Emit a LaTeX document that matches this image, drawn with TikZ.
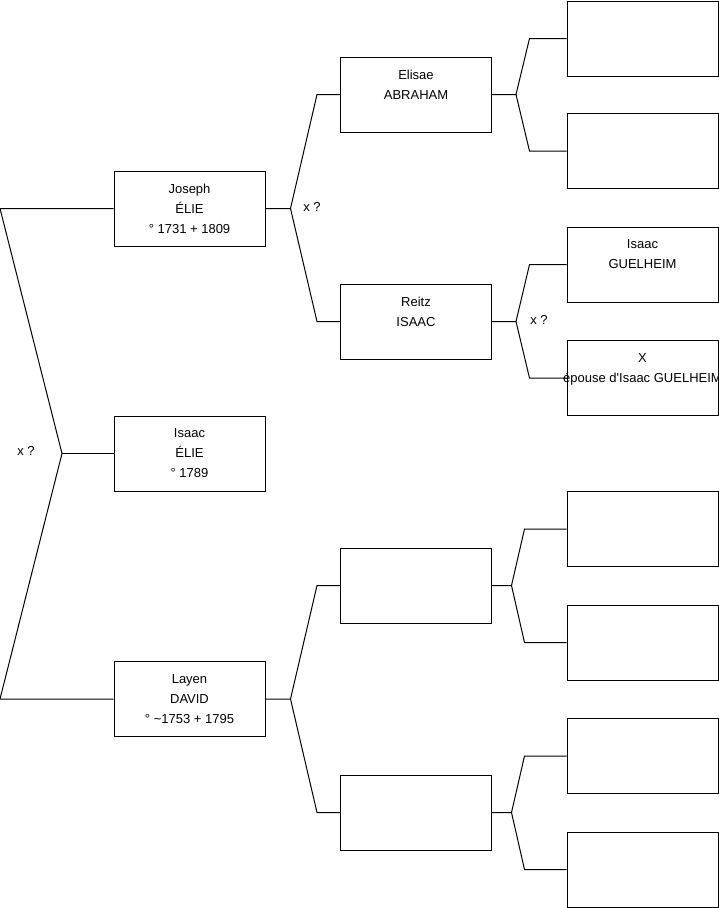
\documentclass[tikz,border=0pt]{standalone}
\usepackage{fontspec}
\setmainfont{Liberation Sans}
\usetikzlibrary{positioning, calc}
\definecolor{inkline}{HTML}{000000}
\newcommand{\personbox}[3]{%
  \node[pbox] (#1) at (#2) {#3};}

\begin{document}
\begin{tikzpicture}[x=1pt, y=-1pt, line width=1pt,
    pbox/.style={draw=inkline, minimum width=151pt, minimum height=75pt,
                 inner sep=0pt, align=center,
                 font=\fontsize{13}{20}\selectfont},
    mlabel/.style={font=\fontsize{13}{15}\selectfont, inner sep=0pt}]
  \useasboundingbox (0,0) rectangle (719,908);
  % generation 1
  \personbox{joseph}{189.5,208.5}{Joseph\\ÉLIE\\° 1731 + 1809}
  \personbox{isaacE}{189.5,453.5}{Isaac\\ÉLIE\\° 1789}
  \personbox{layen}{189.5,699}{Layen\\DAVID\\° \textasciitilde1753 + 1795}
  % generation 2
  \personbox{elisae}{416,94.5}{Elisae\\ABRAHAM\\\mbox{}}
  \personbox{reitz}{416,321.5}{Reitz\\ISAAC\\\mbox{}}
  \personbox{e1}{416,585.5}{}
  \personbox{e2}{416,812.5}{}
  % generation 3
  \personbox{r1}{642.5,38.5}{}
  \personbox{r2}{642.5,151}{}
  \personbox{isaacG}{642.5,264.5}{Isaac\\GUELHEIM\\\mbox{}}
  \personbox{xw}{642.5,378}{X\\\makebox[0pt]{épouse d\textquotesingle Isaac GUELHEIM}\\\mbox{}}
  \personbox{r5}{642.5,529}{}
  \personbox{r6}{642.5,642.5}{}
  \personbox{r7}{642.5,756}{}
  \personbox{r8}{642.5,869.5}{}

  % forks
  \coordinate (lt) at (0,208.5);
  \coordinate (lb) at (0,699);
  \coordinate (lf) at (62,453.5);
  \draw (joseph.west) -- (lt) -- (lf) -- (lb) -- (layen.west);
  \draw (lf) -- (isaacE.west);

  \coordinate (jf) at ($(joseph.east)+(25,0)$);
  \draw (joseph.east) -- (jf) -- ([xshift=-23pt]elisae.west) -- (elisae.west);
  \draw (jf) -- ([xshift=-23pt]reitz.west) -- (reitz.west);

  \coordinate (df) at ($(layen.east)+(25,0)$);
  \draw (layen.east) -- (df) -- ([xshift=-23pt]e1.west) -- (e1.west);
  \draw (df) -- ([xshift=-23pt]e2.west) -- (e2.west);

  \coordinate (ef) at ($(elisae.east)+(24,0)$);
  \draw (elisae.east) -- (ef) -- ([xshift=-37pt]r1.west) -- (r1.west);
  \draw (ef) -- ([xshift=-37pt]r2.west) -- (r2.west);

  \coordinate (rf) at ($(reitz.east)+(24,0)$);
  \draw (reitz.east) -- (rf) -- ([xshift=-37pt]isaacG.west) -- (isaacG.west);
  \draw (rf) -- ([xshift=-37pt]xw.west) -- (xw.west);

  \coordinate (f1) at ($(e1.east)+(19.5,0)$);
  \draw (e1.east) -- (f1) -- ([xshift=-42pt]r5.west) -- (r5.west);
  \draw (f1) -- ([xshift=-42pt]r6.west) -- (r6.west);

  \coordinate (f2) at ($(e2.east)+(19.5,0)$);
  \draw (e2.east) -- (f2) -- ([xshift=-42pt]r7.west) -- (r7.west);
  \draw (f2) -- ([xshift=-42pt]r8.west) -- (r8.west);

  % marriage marks
  \node[mlabel] (xq1) at (26,451) {x ?};
  \node[mlabel] (xq2) at (312,207) {x ?};
  \node[mlabel] (xq3) at (539,320) {x ?};
\end{tikzpicture}
\end{document}
